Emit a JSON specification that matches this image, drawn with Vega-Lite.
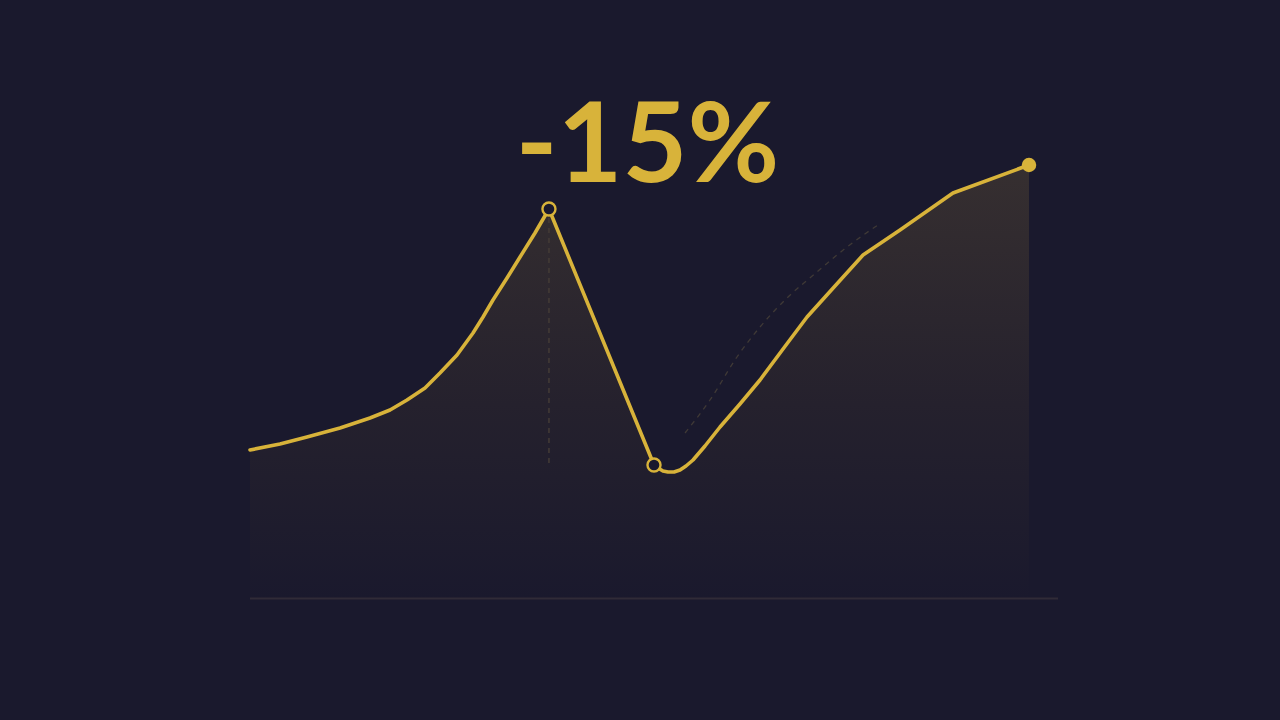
{
  "$schema": "https://vega.github.io/schema/vega-lite/v6.json",
  "width": 808,
  "height": 500,
  "autosize": "none",
  "padding": {"left": 250, "top": 100, "right": 222, "bottom": 120},
  "background": "#1a192d",
  "config": {"view": {"stroke": null}, "axis": {"disable": true}},
  "datasets": {
    "trend": [
      {"t": 0, "v": 30},
      {"t": 3.71, "v": 31.2},
      {"t": 7.05, "v": 32.6},
      {"t": 11.14, "v": 34.4},
      {"t": 14.85, "v": 36.4},
      {"t": 17.33, "v": 38},
      {"t": 19.43, "v": 40},
      {"t": 21.66, "v": 42.4},
      {"t": 23.51, "v": 45.4},
      {"t": 25.62, "v": 49},
      {"t": 27.6, "v": 53.4},
      {"t": 28.84, "v": 56.6},
      {"t": 30.07, "v": 60},
      {"t": 31.81, "v": 64.4},
      {"t": 33.42, "v": 68.6},
      {"t": 35.27, "v": 73.4},
      {"t": 37.0, "v": 78.2},
      {"t": 50.0, "v": 27.0},
      {"t": 50.5, "v": 26.4},
      {"t": 51.11, "v": 25.8},
      {"t": 51.73, "v": 25.6},
      {"t": 52.48, "v": 25.6},
      {"t": 53.22, "v": 26},
      {"t": 53.96, "v": 26.8},
      {"t": 54.83, "v": 28},
      {"t": 56.31, "v": 30.8},
      {"t": 58.17, "v": 34.6},
      {"t": 60.64, "v": 39.2},
      {"t": 63.12, "v": 44},
      {"t": 65.97, "v": 50.2},
      {"t": 68.94, "v": 56.6},
      {"t": 72.4, "v": 62.8},
      {"t": 75.87, "v": 69},
      {"t": 80.45, "v": 74},
      {"t": 87.0, "v": 81.4},
      {"t": 96.41, "v": 87}
    ],
    "projection": [
      {"t": 53.84, "v": 33.4},
      {"t": 56.93, "v": 40},
      {"t": 60.27, "v": 48.6},
      {"t": 63.12, "v": 54.6},
      {"t": 66.46, "v": 60.4},
      {"t": 70.17, "v": 65.6},
      {"t": 73.89, "v": 70.6},
      {"t": 77.72, "v": 75}
    ],
    "points": [
      {"t": 37.0, "v": 78.2, "kind": "peak"},
      {"t": 50.0, "v": 27.0, "kind": "low"},
      {"t": 96.41, "v": 87, "kind": "now"}
    ]
  },
  "encoding": {
    "x": {"field": "t", "type": "quantitative", "scale": {"domain": [0, 100], "nice": false, "zero": false}},
    "y": {"field": "v", "type": "quantitative", "scale": {"domain": [0, 100], "nice": false, "zero": false}}
  },
  "layer": [
    {
      "data": {"name": "trend"},
      "mark": {
        "type": "area",
        "color": {
          "gradient": "linear",
          "x1": 0, "y1": 0, "x2": 0, "y2": 1,
          "stops": [
            {"offset": 0, "color": "#362f30"},
            {"offset": 0.55, "color": "#25212d"},
            {"offset": 1, "color": "#1a192d"}
          ]
        }
      },
      "encoding": {"y2": {"datum": 0}}
    },
    {
      "data": {"values": [{"a": 0, "b": 100, "base": 0.3}]},
      "mark": {"type": "rule", "color": "#302b37", "strokeWidth": 2},
      "encoding": {
        "x": {"field": "a", "type": "quantitative"},
        "x2": {"field": "b"},
        "y": {"field": "base", "type": "quantitative"}
      }
    },
    {
      "data": {"values": [{"t": 37.0, "lo": 27.4, "hi": 76.6}]},
      "mark": {"type": "rule", "color": "#443c36", "strokeWidth": 1.5, "strokeDash": [5, 5]},
      "encoding": {
        "y": {"field": "lo", "type": "quantitative"},
        "y2": {"field": "hi"}
      }
    },
    {
      "data": {"name": "projection"},
      "mark": {"type": "line", "color": "#3f3936", "strokeWidth": 1.3, "strokeDash": [5, 5], "interpolate": "monotone"},
      "encoding": {}
    },
    {
      "data": {"name": "trend"},
      "mark": {"type": "line", "color": "#d8b33a", "strokeWidth": 3.6, "strokeJoin": "round", "strokeCap": "round"},
      "encoding": {}
    },
    {
      "data": {"name": "points"},
      "transform": [{"filter": "datum.kind != 'now'"}],
      "mark": {"type": "point", "shape": "circle", "size": 170, "filled": true, "fill": "#1a192d", "stroke": "#d8b33a", "strokeWidth": 2.4, "opacity": 1},
      "encoding": {}
    },
    {
      "data": {"name": "points"},
      "transform": [{"filter": "datum.kind == 'now'"}],
      "mark": {"type": "point", "shape": "circle", "size": 210, "filled": true, "color": "#d8b33a", "opacity": 1},
      "encoding": {}
    },
    {
      "data": {"values": [{"t": 49.2, "v": 83.6, "label": "-15%"}]},
      "mark": {"type": "text", "font": "Lato", "fontWeight": "bold", "fontSize": 112, "color": "#d8b33a", "align": "center", "baseline": "alphabetic"},
      "encoding": {"text": {"field": "label"}}
    }
  ]
}
